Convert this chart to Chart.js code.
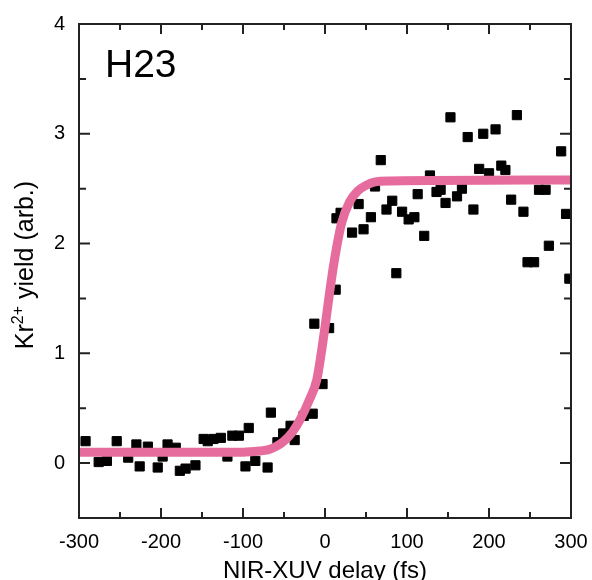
<!DOCTYPE html>
<html>
<head>
<meta charset="utf-8">
<script src="https://cdn.jsdelivr.net/npm/chart.js@4"></script>
<style>
  body { margin: 0; background: #fff; }
  canvas { display: block; }
</style>
</head>
<body>
<canvas id="chart" width="592" height="580"></canvas>
<script>
// measured points: delay (fs) and Kr2+ yield
const delay = [-292, -276, -266, -254, -240, -230, -226, -216, -204, -198, -192, -182, -177, -170, -158,
  -148, -143, -136, -127, -119, -113, -105, -97, -93, -85, -70, -66, -58, -51, -42, -37, -26, -15, -3,
  -13, 5, 13, 14, 19, 33, 41, 47, 56, 61, 68, 75, 82, 87, 94, 102, 109, 113, 121, 128, 136, 141, 147,
  153, 161, 167, 174, 181, 188, 193, 200, 208, 215, 220, 227, 234, 242, 247, 255, 261, 269, 273, 288, 294, 298];
const yieldVals = [0.20, 0.01, 0.02, 0.20, 0.05, 0.17, -0.03, 0.15, -0.04, 0.06, 0.17, 0.14, -0.07, -0.05, -0.02,
  0.22, 0.20, 0.22, 0.23, 0.06, 0.25, 0.25, -0.03, 0.32, 0.02, -0.04, 0.46, 0.19, 0.27, 0.34, 0.21, 0.43, 0.45, 0.72,
  1.27, 1.23, 1.58, 2.23, 2.28, 2.10, 2.36, 2.13, 2.24, 2.52, 2.76, 2.31, 2.39, 1.73, 2.29, 2.22, 2.24, 2.45, 2.07, 2.62, 2.47, 2.49, 2.37,
  3.15, 2.43, 2.50, 2.97, 2.31, 2.68, 3.00, 2.64, 3.04, 2.71, 2.67, 2.40, 3.17, 2.29, 1.83, 1.83, 2.49, 2.49, 1.98, 2.84, 2.27, 1.68];

// fit curve
const fitDelay = [-300, -200, -100, -80, -70, -60, -50, -40, -30, -20, -10, -5, 0, 5, 10, 15, 20, 30, 40, 50, 60, 80, 300];
const fitYield = [0.10, 0.10, 0.10, 0.11, 0.12, 0.15, 0.20, 0.28, 0.40, 0.56, 0.76, 0.98, 1.24, 1.52, 1.78, 2.00, 2.18, 2.38, 2.48, 2.53, 2.56, 2.57, 2.58];

const xTicks = [-300, -200, -100, 0, 100, 200, 300];
const yTicks = [0, 1, 2, 3, 4];

const points = delay.map((d, i) => ({ x: d, y: yieldVals[i] }));
const fit = fitDelay.map((d, i) => ({ x: d, y: fitYield[i] }));

const FONT = '"Liberation Sans", Arial, sans-serif';

// frame, inward ticks, labels
const decorations = {
  id: 'decorations',
  afterDraw(chart) {
    const { ctx, chartArea: a, scales: { x, y } } = chart;
    ctx.save();
    ctx.strokeStyle = '#222';
    ctx.lineWidth = 2;
    ctx.strokeRect(a.left, a.top, a.right - a.left, a.bottom - a.top);

    ctx.beginPath();
    for (let v = -300; v <= 300; v += 50) {
      const px = x.getPixelForValue(v);
      const len = xTicks.includes(v) ? 10 : 6;
      ctx.moveTo(px, a.bottom); ctx.lineTo(px, a.bottom - len);
      ctx.moveTo(px, a.top); ctx.lineTo(px, a.top + len);
    }
    for (let v = -0.5; v <= 4; v += 0.5) {
      const py = y.getPixelForValue(v);
      const len = yTicks.includes(v) ? 11 : 7;
      ctx.moveTo(a.left, py); ctx.lineTo(a.left + len, py);
      ctx.moveTo(a.right, py); ctx.lineTo(a.right - len, py);
    }
    ctx.stroke();

    ctx.fillStyle = '#000';
    ctx.font = '39px ' + FONT;
    ctx.textBaseline = 'alphabetic';
    ctx.textAlign = 'left';
    ctx.fillText('H23', 105, 77);

    // x title
    ctx.font = '24px ' + FONT;
    ctx.textAlign = 'center';
    ctx.fillText('NIR-XUV delay (fs)', x.getPixelForValue(0), 578);

    // y title with superscript
    ctx.translate(33, 265);
    ctx.rotate(-Math.PI / 2);
    const big = '25px ' + FONT;
    const small = '16px ' + FONT;
    ctx.font = big;
    const w1 = ctx.measureText('Kr').width;
    const w3 = ctx.measureText(' yield (arb.)').width;
    ctx.font = small;
    const w2 = ctx.measureText('2+').width;
    let cx = -(w1 + w2 + w3) / 2;
    ctx.textAlign = 'left';
    ctx.font = big;
    ctx.fillText('Kr', cx, 0);
    cx += w1;
    ctx.font = small;
    ctx.fillText('2+', cx, -10);
    cx += w2;
    ctx.font = big;
    ctx.fillText(' yield (arb.)', cx, 0);
    ctx.restore();
  }
};

new Chart(document.getElementById('chart'), {
  type: 'scatter',
  data: {
    datasets: [
      {
        type: 'line',
        data: fit,
        borderColor: '#e76c9e',
        borderWidth: 9,
        pointRadius: 0,
        cubicInterpolationMode: 'monotone',
        fill: false
      },
      {
        data: points,
        pointStyle: 'rect',
        pointRadius: 6.5,
        pointBorderWidth: 1,
        backgroundColor: '#000',
        borderColor: '#000'
      }
    ]
  },
  options: {
    responsive: false,
    animation: false,
    layout: { padding: { left: 0, right: 21, top: 24, bottom: 0 } },
    plugins: { legend: { display: false }, tooltip: { enabled: false } },
    scales: {
      x: {
        type: 'linear',
        min: -300,
        max: 300,
        grid: { display: false, drawTicks: false },
        border: { display: false },
        afterFit: s => { s.height = 62; s.paddingLeft = 0; s.paddingRight = 0; },
        afterBuildTicks: s => { s.ticks = xTicks.map(v => ({ value: v })); },
        ticks: {
          color: '#000',
          padding: 12,
          maxRotation: 0,
          font: { size: 20, family: FONT }
        }
      },
      y: {
        min: -0.5,
        max: 4,
        grid: { display: false, drawTicks: false },
        border: { display: false },
        afterFit: s => { s.width = 79; s.paddingTop = 0; s.paddingBottom = 0; },
        afterBuildTicks: s => { s.ticks = yTicks.map(v => ({ value: v })); },
        ticks: {
          color: '#000',
          padding: 14,
          font: { size: 20, family: FONT }
        }
      }
    }
  },
  plugins: [decorations]
});
</script>
</body>
</html>
